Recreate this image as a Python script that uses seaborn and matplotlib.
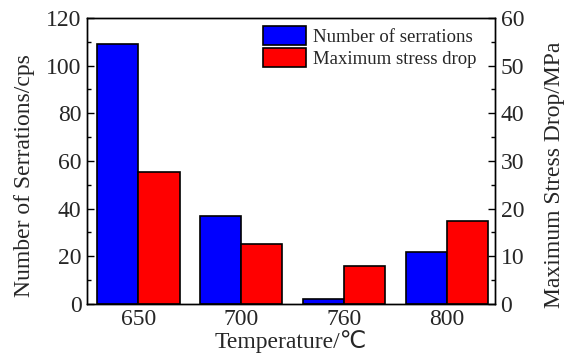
import matplotlib
matplotlib.use("Agg")
import matplotlib.pyplot as plt
import seaborn as sns
import pandas as pd
import numpy as np
from matplotlib.ticker import MultipleLocator, FixedLocator

temperatures = ["650", "700", "760", "800"]
serrations = [109, 37, 2, 22]
stress_drop = [27.6, 12.6, 8.0, 17.5]
series_names = ["Number of serrations", "Maximum stress drop"]
colors = ["#0000FF", "#FF0000"]

sns.set_style("ticks")
plt.rcParams['font.family'] = ['Liberation Serif', 'DejaVu Sans']

n = len(temperatures)
# one long table; each axis only gets its own series, the other is NaN
df = pd.DataFrame({
    "Temperature": temperatures * 2,
    "series": [series_names[0]] * n + [series_names[1]] * n,
    "left": serrations + [np.nan] * n,
    "right": [np.nan] * n + stress_drop,
})

fig, ax = plt.subplots(figsize=(5.69, 3.58), dpi=100)
ax2 = ax.twinx()

palette = dict(zip(series_names, colors))
for a, col in ((ax, "left"), (ax2, "right")):
    sns.barplot(data=df, x="Temperature", y=col, hue="series",
                hue_order=series_names, order=temperatures, palette=palette,
                width=0.8, edgecolor="black", linewidth=1.2, saturation=1,
                ax=a, legend=False)

ax.set_xlim(-0.5, 3.47)
ax.set_ylim(0, 120)
ax2.set_ylim(0, 60)
ax.yaxis.set_major_locator(MultipleLocator(20))
ax.yaxis.set_minor_locator(MultipleLocator(10))
ax2.yaxis.set_major_locator(MultipleLocator(10))
ax2.yaxis.set_minor_locator(MultipleLocator(5))
ax.xaxis.set_minor_locator(FixedLocator(np.arange(-0.25, 3.5, 0.5)))

fs = 17
ax.set_xlabel("Temperature/℃", fontsize=fs, labelpad=0)
ax.set_ylabel("Number of Serrations/cps", fontsize=fs)
ax2.set_ylabel("Maximum Stress Drop/MPa", fontsize=fs)
ax.yaxis.set_label_coords(-0.127, 0.45)
ax2.yaxis.set_label_coords(1.12, 0.45)

for a in (ax, ax2):
    a.tick_params(axis="both", which="both", direction="in", labelsize=fs,
                  width=1, color="black", pad=4)
    a.tick_params(which="major", length=5)
    a.tick_params(which="minor", length=3)
    for s in a.spines.values():
        s.set_visible(True)
        s.set_linewidth(1)
        s.set_color("black")
ax.tick_params(axis="x", which="major", length=0, pad=4)

handles = [plt.Rectangle((0, 0), 1, 1, facecolor=c, edgecolor="black", linewidth=1.2)
           for c in colors]
leg = ax2.legend(handles, series_names, loc="upper left", fontsize=13.5,
                 frameon=False, handlelength=2.3, handleheight=1.2,
                 handletextpad=0.35, labelspacing=0.1,
                 bbox_to_anchor=(0.431, 0.972), borderaxespad=0, borderpad=0)

fig.subplots_adjust(left=0.153, right=0.87, top=0.95, bottom=0.151)
fig.savefig("out.png", dpi=100)
